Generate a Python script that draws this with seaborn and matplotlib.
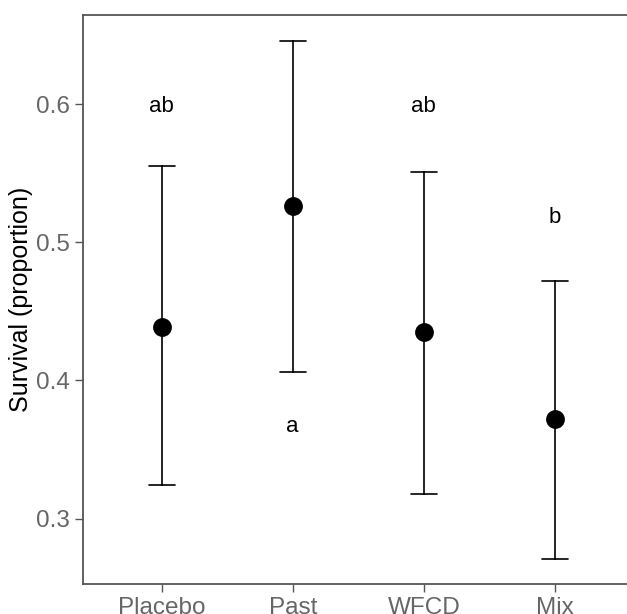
import seaborn as sns
import pandas as pd
import matplotlib.pyplot as plt

# survival estimates with lower / upper limits
groups = ['Placebo', 'Past', 'WFCD', 'Mix']
mean = [0.439, 0.526, 0.435, 0.372]
lower = [0.324, 0.406, 0.318, 0.271]
upper = [0.555, 0.646, 0.551, 0.472]
letters = ['ab', 'a', 'ab', 'b']
letter_y = [0.598, 0.367, 0.598, 0.518]

sns.set_style('white')
plt.rcParams['font.family'] = ['Liberation Sans', 'DejaVu Sans']

# long form: median of (lower, mean, upper) is the mean, full range is the interval
df = pd.DataFrame({
    'group': groups * 3,
    'value': lower + mean + upper,
})

fig = plt.figure(figsize=(6.27, 6.14), dpi=100)
ax = fig.add_axes([0.1324, 0.0489, 0.8676, 0.9267])

sns.pointplot(data=df, x='group', y='value', order=groups,
              estimator='median', errorbar=('pi', 100),
              color='black', linestyle='none', marker='o',
              markersize=11.5, capsize=0.2, err_kws={'linewidth': 1.2},
              ax=ax)

for i, (lab, yy) in enumerate(zip(letters, letter_y)):
    ax.text(i, yy, lab, ha='center', va='center', fontsize=16, color='black')

ax.set_xlim(-0.6, 3.55)
ax.set_ylim(0.2527, 0.6645)
ax.set_yticks([0.3, 0.4, 0.5, 0.6])
ax.set_yticklabels(['0.3', '0.4', '0.5', '0.6'])
ax.set_yticks([0.35, 0.45, 0.55, 0.65], minor=True)
ax.set_xlabel('')
ax.set_ylabel('Survival (proportion)', fontsize=18, color='black', labelpad=2)

grey = '#555555'
ax.tick_params(axis='both', which='major', direction='out', length=6, width=1,
               color=grey, labelcolor='#666666', labelsize=17.5,
               left=True, bottom=True)
ax.tick_params(axis='y', which='minor', direction='in', length=4, width=1.5,
               color='white', left=True)
for side in ['left', 'bottom', 'top']:
    ax.spines[side].set_color(grey)
    ax.spines[side].set_linewidth(1.3)
ax.spines['right'].set_visible(False)

fig.savefig('out.png', dpi=100)
